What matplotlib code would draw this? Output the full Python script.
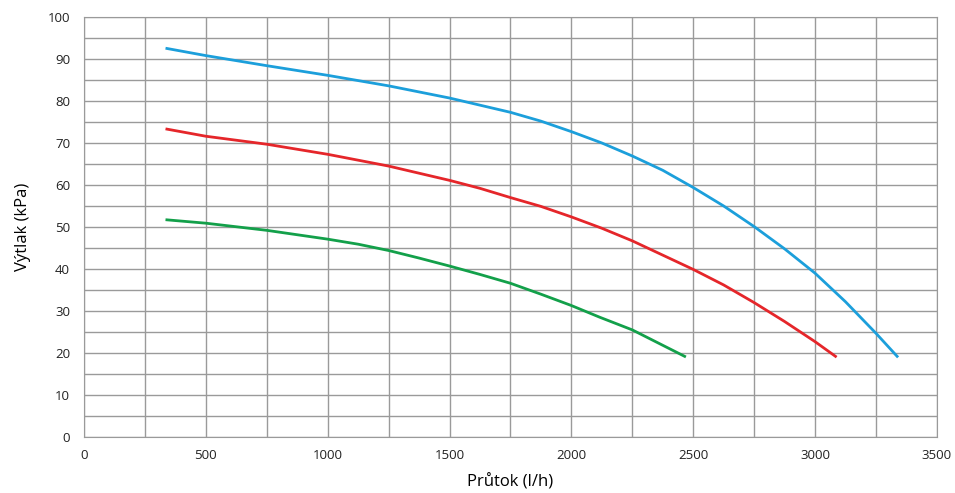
import numpy as np
import matplotlib.pyplot as plt
from matplotlib.ticker import MultipleLocator

# flow (l/h) vs head (kPa)
blue_q = [340, 500, 750, 1000, 1250, 1500, 1750, 1875, 2000, 2125, 2250, 2375,
          2500, 2625, 2750, 2875, 3000, 3125, 3250, 3337]
blue_h = [92.5, 90.8, 88.4, 86.1, 83.6, 80.7, 77.3, 75.2, 72.7, 70.0, 66.9, 63.5,
          59.4, 55.0, 50.1, 44.8, 39.0, 32.2, 24.7, 19.2]

red_q = [340, 500, 750, 1000, 1250, 1500, 1625, 1750, 1875, 2000, 2125, 2250,
         2375, 2500, 2625, 2750, 2875, 3000, 3084]
red_h = [73.3, 71.6, 69.7, 67.3, 64.5, 61.1, 59.2, 57.0, 54.9, 52.4, 49.7, 46.7,
         43.3, 39.9, 36.2, 32.0, 27.5, 22.7, 19.2]

green_q = [340, 500, 750, 1000, 1125, 1250, 1375, 1500, 1625, 1750, 1875, 2000,
           2117, 2250, 2465]
green_h = [51.7, 50.9, 49.2, 47.1, 45.9, 44.4, 42.6, 40.7, 38.7, 36.6, 34.0, 31.3,
           28.5, 25.5, 19.2]

plt.rcParams['font.family'] = ['Open Sans', 'DejaVu Sans']

fig = plt.figure(figsize=(9.55, 4.93), dpi=100)
ax = fig.add_axes([0.088, 0.1136, 0.893, 0.852])

ax.plot(blue_q, blue_h, color='#1c9fdb', lw=2)
ax.plot(red_q, red_h, color='#e5262a', lw=2)
ax.plot(green_q, green_h, color='#13a04a', lw=2)

ax.set_xlim(0, 3500)
ax.set_ylim(0, 100)
ax.xaxis.set_major_locator(MultipleLocator(500))
ax.xaxis.set_minor_locator(MultipleLocator(250))
ax.yaxis.set_major_locator(MultipleLocator(10))
ax.yaxis.set_minor_locator(MultipleLocator(5))
ax.grid(which='both', color='#9a9a9a', lw=1)
ax.set_axisbelow(True)
ax.tick_params(which='both', length=0, labelsize=9.5, colors='#222222')
ax.tick_params(axis='x', pad=9)
ax.tick_params(axis='y', pad=10)
for s in ax.spines.values():
    s.set_color('#9a9a9a')

ax.set_xlabel('Průtok (l/h)', fontsize=12, labelpad=8)
ax.set_ylabel('Výtlak (kPa)', fontsize=12, labelpad=12)

fig.savefig('out.png', dpi=100)
